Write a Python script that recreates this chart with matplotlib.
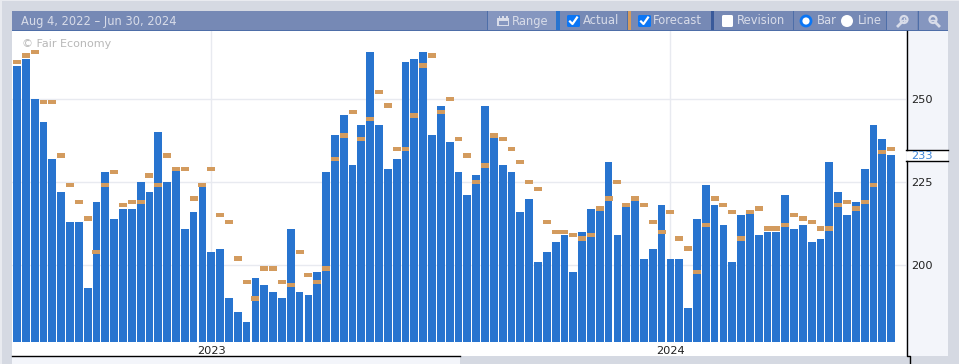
import numpy as np
import matplotlib
matplotlib.use("Agg")
import matplotlib.pyplot as plt
from matplotlib.patches import Rectangle, Circle, FancyBboxPatch

# Weekly values, oldest first
actual = [260, 262, 250, 243, 232, 222, 213, 213, 193, 219,
          228, 214, 217, 217, 225, 222, 240, 225, 229, 211,
          216, 224, 204, 205, 190, 186, 183, 196, 194, 192,
          190, 211, 192, 191, 198, 228, 239, 245, 230, 242,
          264, 242, 229, 232, 261, 262, 264, 239, 248, 237,
          228, 221, 227, 248, 239, 230, 228, 216, 220, 201,
          204, 207, 209, 198, 210, 217, 217, 231, 209, 218,
          220, 202, 205, 218, 202, 202, 187, 214, 224, 218,
          212, 201, 215, 216, 209, 210, 210, 221, 211, 212,
          207, 208, 231, 222, 215, 219, 229, 242, 238, 233]

forecast = [261, 263, 264, 249, 249, 233, 224, 219, 214, 204,
            224, 228, 218, 219, 219, 227, 224, 233, 229, 229,
            220, 224, 229, 215, 213, 202, 195, 190, 199, 199,
            195, 194, 204, 197, 195, 199, 232, 239, 246, 238,
            244, 252, 248, 235, 235, 245, 260, 263, 246, 250,
            238, 233, 225, 230, 239, 238, 235, 231, 225, 223,
            213, 210, 210, 209, 208, 209, 217, 220, 225, 218,
            220, 218, 213, 210, 216, 208, 205, 198, 212, 220,
            218, 216, 208, 216, 217, 211, 211, 212, 215, 214,
            213, 211, 211, 218, 219, 217, 219, 224, 234, 235]

y_ticks = [200, 225, 250]
year_pos = [22, 74]
year_labels = ["2023", "2024"]
last_value = actual[-1]

GREY = "#d5d9e2"
HEADER = "#7689b5"
BTN = "#8596bf"
LINE = "#4e6ea8"
PANEL = "#f3f5fa"
BLUE = "#2874cf"
ORANGE = "#d39b5e"
TXT = "#d8dce9"
CHECK = "#0b76f5"

W, H = 959, 364
fig = plt.figure(figsize=(W / 100, H / 100), dpi=100, facecolor=GREY)

# pixel canvas for the page furniture
bg = fig.add_axes([0, 0, 1, 1], zorder=0)
bg.set_xlim(0, W)
bg.set_ylim(H, 0)
bg.axis("off")


def box(x0, y0, x1, y1, color, z=1):
    bg.add_patch(Rectangle((x0, y0), x1 - x0, y1 - y0, fc=color, ec="none", zorder=z))


def label(x, txt, color=TXT, size=8.3):
    bg.text(x, 21, txt, color=color, fontsize=size, va="center", ha="left", zorder=5)


def checkbox(x0, x1, on):
    fc = CHECK if on else "white"
    bg.add_patch(FancyBboxPatch((x0 + 1.5, 16.5), x1 - x0 - 3, 9, boxstyle="round,pad=1.5",
                                fc=fc, ec="none", zorder=4))
    if on:
        bg.plot([x0 + 3, x0 + 5.5, x0 + 10], [21.5, 24, 17.5], color="white", lw=1.6, zorder=5)


# page edge
box(0, 0, W, 1, "#e9ebf0")
box(0, 0, 1.5, H, "#e9ebf0")

# plot area and panels
box(12, 31, 906, 356, "white")
box(906, 31, 948, 356, PANEL)
box(12, 356, 460, 364, PANEL)
box(906.5, 150.5, 948, 161, "white", 2)
bg.plot([12, 460], [356, 356], color="black", lw=1, zorder=3)
bg.plot([906.5, 906.5, 910, 910], [161, 356, 356, 364], color="black", lw=1, zorder=3)
bg.plot([906.5, 906.5], [31, 150], color="black", lw=1, zorder=3)
bg.plot([906, 948], [150, 150], color="black", lw=1, zorder=3)
bg.plot([906, 948], [161, 161], color="black", lw=1, zorder=3)

# toolbar
box(12, 11, 948, 30, HEADER)
box(12, 30, 948, 31, LINE)
box(488, 11, 556, 30, BTN)
box(887, 11, 917, 30, BTN)
box(919, 11, 948, 30, BTN)
box(556, 11, 560, 30, BLUE)
box(628, 11, 631, 30, ORANGE)
box(711, 11, 714, 30, "#3a5a9a")
for xd in [487, 627, 793, 886, 918]:
    box(xd, 11, xd + 1, 30, LINE, 2)

label(21, "Aug 4, 2022 – Jun 30, 2024")
label(512, "Range")
label(583, "Actual")
label(653, "Forecast")
label(737, "Revision")
label(817, "Bar")
label(858, "Line")

# calendar icon
box(497, 18, 509, 26, TXT, 3)
box(498.5, 21, 507.5, 25, BTN, 3)
box(498.5, 16, 500, 19, TXT, 3)
box(502.3, 16, 503.8, 19, TXT, 3)
box(506, 16, 507.5, 19, TXT, 3)

checkbox(567, 580, True)
checkbox(638, 651, True)
checkbox(722, 733, False)

bg.add_patch(Circle((806, 21), 5, fc="white", ec=CHECK, lw=2, zorder=4))
bg.add_patch(Circle((847, 21), 6, fc="white", ec="none", zorder=4))

# zoom icons, handles point opposite ways
bg.add_patch(Circle((904, 19.5), 3.5, fc="none", ec=TXT, lw=1.6, zorder=4))
bg.plot([901.5, 898], [22.5, 26], color=TXT, lw=2, zorder=4)
bg.plot([902, 906], [19.5, 19.5], color=TXT, lw=1, zorder=4)
bg.plot([904, 904], [17.5, 21.5], color=TXT, lw=1, zorder=4)
bg.add_patch(Circle((933, 19.5), 3.5, fc="none", ec=TXT, lw=1.6, zorder=4))
bg.plot([935.5, 939], [22.5, 26], color=TXT, lw=2, zorder=4)
bg.plot([931, 935], [19.5, 19.5], color=TXT, lw=1, zorder=4)

bg.text(22, 44, "© Fair Economy", color="#b8b8b8", fontsize=8, va="center", ha="left", zorder=5)
bg.text(911, 156, str(last_value), color="#3d85d8", fontsize=8.2, va="center", ha="left", zorder=5)

# main chart
ax = fig.add_axes([12 / W, 1 - 342 / H, (906 - 12) / W, (342 - 31) / H], zorder=1)
ax.patch.set_alpha(0)
x = np.arange(len(actual))
ax.set_xlim(-0.566, 100.68)
ax.set_ylim(176.9, 270.4)
ax.set_axisbelow(True)
ax.grid(True, color="#e8eaf0", lw=1)
ax.bar(x, actual, width=0.88, color=BLUE, zorder=2)
ax.bar(x, [1.3] * len(forecast), bottom=np.array(forecast) - 0.65, width=0.9, color=ORANGE, zorder=3)

ax.set_xticks(year_pos)
ax.set_xticklabels(year_labels, fontsize=8.2, color="#222222")
ax.yaxis.tick_right()
ax.set_yticks(y_ticks)
ax.set_yticklabels([str(t) for t in y_ticks], fontsize=8.2, color="#222222")
ax.tick_params(axis="both", length=0)
ax.tick_params(axis="x", pad=3)
ax.tick_params(axis="y", pad=3.5)
for s in ax.spines.values():
    s.set_visible(False)

fig.savefig("out.png", dpi=100, facecolor=GREY)
